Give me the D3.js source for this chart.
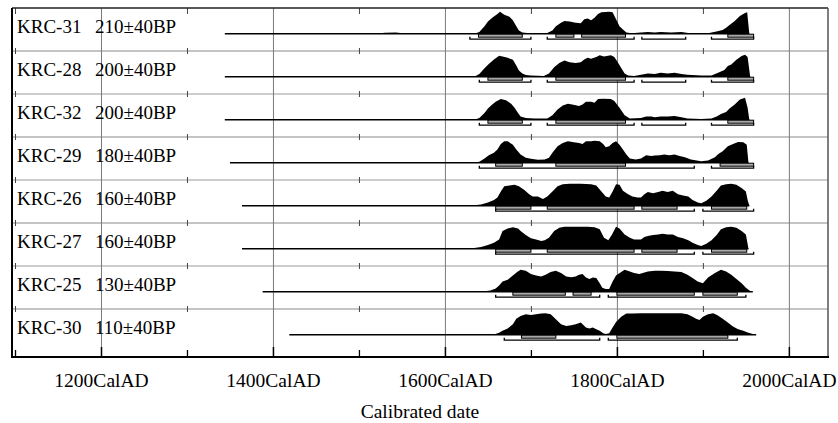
<!DOCTYPE html>
<html>
<head>
<meta charset="utf-8">
<script src="https://cdn.jsdelivr.net/npm/d3@7"></script>
<style>
  body { margin: 0; background: #fff; }
</style>
</head>
<body>
<div id="chart"></div>
<script>
// sample names and conventional ages, top row first
var samples = ['KRC-31', 'KRC-28', 'KRC-32', 'KRC-29', 'KRC-26', 'KRC-27', 'KRC-25', 'KRC-30'];
var ages = ['210±40BP', '200±40BP', '200±40BP', '180±40BP', '160±40BP', '160±40BP', '130±40BP', '110±40BP'];

var majorTicks = [1200, 1400, 1600, 1800, 2000];
var minorTicks = [1100, 1300, 1500, 1700, 1900];

// probability curves: [calendar year, relative probability]
var dens31 = [[1344,0],[1520,0],[1530,.04],[1543,.05],[1556,0],[1634,0],[1640,.08],[1646,.34],[1650,.55],[1655,.73],[1661,.89],[1664,1],[1669,.86],[1675,.77],[1679,.61],[1683,.34],[1686,.14],[1690,.06],[1696,.03],[1704,.02],[1719,.03],[1725,.14],[1729,.34],[1735,.5],[1739,.58],[1745,.55],[1752,.5],[1758,.48],[1762,.66],[1766,.69],[1770,.61],[1774,.73],[1778,.89],[1782,.98],[1791,1],[1795,.97],[1799,.66],[1803,.34],[1807,.19],[1811,.06],[1817,.02],[1828,.05],[1836,.08],[1844,.06],[1851,.08],[1863,.06],[1875,.08],[1883,.03],[1906,.02],[1917,.11],[1923,.17],[1927,.27],[1931,.39],[1937,.58],[1943,.81],[1949,.94],[1951.5,.97],[1954,0]];
var dens28 = [[1344,0],[1525,0],[1535,.03],[1550,.03],[1560,0],[1634,0],[1640,.12],[1646,.38],[1651,.58],[1657,.78],[1663,.95],[1667,.92],[1673,.86],[1679,.77],[1683,.51],[1686,.28],[1690,.15],[1694,.08],[1700,.05],[1715,.03],[1721,.15],[1727,.43],[1733,.62],[1739,.74],[1745,.66],[1752,.62],[1758,.66],[1762,.78],[1766,.86],[1770,.82],[1776,.89],[1780,.97],[1785,.92],[1793,.97],[1797,.89],[1801,.66],[1805,.4],[1809,.15],[1813,.05],[1820,.03],[1828,.09],[1836,.15],[1844,.12],[1851,.18],[1859,.15],[1867,.18],[1875,.12],[1882,.09],[1898,.05],[1910,.05],[1917,.17],[1925,.31],[1929,.49],[1933,.55],[1939,.77],[1945,.94],[1949,1],[1952,.89],[1955,0]];
var dens32 = [[1344,0],[1515,0],[1530,.02],[1560,.02],[1580,0],[1634,0],[1640,.08],[1646,.31],[1650,.51],[1655,.69],[1659,.82],[1665,.94],[1671,.88],[1677,.72],[1681,.54],[1685,.31],[1688,.15],[1694,.08],[1704,.05],[1719,.05],[1725,.2],[1731,.46],[1737,.65],[1743,.72],[1748,.69],[1756,.62],[1760,.69],[1764,.82],[1770,.82],[1774,.77],[1778,.94],[1784,.95],[1793,.94],[1797,.85],[1803,.54],[1809,.2],[1815,.06],[1828,.08],[1834,.14],[1840,.14],[1844,.11],[1851,.15],[1859,.14],[1867,.17],[1875,.11],[1882,.05],[1898,.03],[1910,.05],[1916,.14],[1921,.26],[1927,.35],[1931,.51],[1937,.69],[1943,.92],[1949,1],[1952,.54],[1954,0]];
var dens29 = [[1350,0],[1630,0],[1640,.04],[1646,.19],[1651,.34],[1657,.45],[1661,.6],[1665,.85],[1669,.97],[1673,.97],[1679,.82],[1683,.6],[1688,.37],[1694,.22],[1700,.18],[1708,.13],[1716,.15],[1721,.22],[1725,.45],[1731,.75],[1737,.9],[1743,.97],[1750,.93],[1756,.9],[1760,.85],[1764,.97],[1770,.97],[1774,1],[1780,.97],[1784,.85],[1787,.7],[1791,.75],[1795,.9],[1799,.97],[1803,.82],[1807,.6],[1811,.37],[1815,.19],[1822,.15],[1828,.19],[1834,.34],[1840,.3],[1844,.33],[1850,.34],[1855,.37],[1861,.34],[1867,.37],[1873,.3],[1879,.25],[1886,.15],[1898,.07],[1906,.1],[1914,.25],[1918,.4],[1923,.52],[1929,.75],[1935,.85],[1941,.94],[1947,.93],[1951,.82],[1953,0]];
var dens26 = [[1364,0],[1600,0],[1634,.02],[1642,.06],[1650,.15],[1657,.26],[1661,.37],[1665,.65],[1669,.88],[1675,.92],[1681,.95],[1686,.88],[1692,.72],[1698,.52],[1702,.42],[1708,.42],[1714,.31],[1719,.42],[1725,.65],[1731,.88],[1737,.98],[1745,1],[1758,1],[1770,.98],[1776,.92],[1782,.65],[1787,.42],[1791,.37],[1795,.65],[1799,.98],[1803,.95],[1807,.68],[1813,.52],[1818,.42],[1824,.37],[1828,.37],[1832,.52],[1836,.62],[1842,.57],[1848,.62],[1853,.68],[1859,.62],[1865,.68],[1871,.52],[1877,.46],[1883,.42],[1888,.26],[1894,.15],[1898,.11],[1904,.22],[1910,.42],[1916,.68],[1921,.92],[1927,.98],[1933,1],[1939,.95],[1945,.8],[1950,.65],[1952,.26],[1954,0]];
var dens27 = [[1364,0],[1600,0],[1634,.03],[1642,.08],[1650,.17],[1657,.27],[1663,.42],[1667,.8],[1673,.92],[1679,.98],[1685,.92],[1688,.8],[1694,.62],[1700,.47],[1706,.42],[1712,.35],[1716,.38],[1721,.5],[1727,.8],[1733,.95],[1739,1],[1750,1],[1766,1],[1774,.98],[1780,.88],[1785,.5],[1790,.38],[1794,.62],[1799,1],[1803,.92],[1809,.65],[1815,.5],[1820,.42],[1828,.42],[1832,.53],[1836,.58],[1842,.62],[1848,.65],[1853,.68],[1859,.65],[1865,.65],[1871,.53],[1877,.47],[1883,.38],[1888,.27],[1894,.17],[1898,.12],[1904,.23],[1910,.38],[1916,.62],[1921,.88],[1927,.98],[1933,1],[1939,.95],[1945,.8],[1950,.65],[1953,0]];
var dens25 = [[1388,0],[1600,0],[1646,.02],[1653,.06],[1659,.15],[1663,.28],[1667,.46],[1673,.54],[1679,.74],[1684,.89],[1688,1],[1694,.95],[1700,.8],[1706,.74],[1712,.69],[1717,.77],[1723,.89],[1729,.95],[1735,.85],[1741,.69],[1747,.66],[1752,.69],[1756,.77],[1760,.8],[1764,.65],[1768,.58],[1772,.65],[1776,.62],[1780,.38],[1783,.18],[1787,.12],[1791,.12],[1795,.46],[1799,.74],[1805,.89],[1809,1],[1815,.92],[1820,.85],[1826,.8],[1830,.85],[1836,.92],[1844,.95],[1851,.95],[1859,.94],[1867,.92],[1875,.89],[1882,.77],[1888,.62],[1894,.46],[1900,.38],[1906,.65],[1914,.85],[1921,1],[1927,.92],[1933,.77],[1939,.58],[1945,.38],[1950,.18],[1955,.03],[1958,0]];
var dens30 = [[1419,0],[1600,0],[1657,.01],[1663,.09],[1667,.18],[1673,.28],[1679,.48],[1683,.73],[1688,.85],[1694,.93],[1700,.9],[1706,.93],[1712,.96],[1717,.97],[1723,.93],[1729,.7],[1735,.48],[1741,.4],[1747,.43],[1752,.48],[1758,.55],[1764,.33],[1768,.28],[1772,.33],[1776,.25],[1780,.18],[1784,.07],[1787,.03],[1791,.07],[1795,.33],[1799,.58],[1805,.82],[1811,.96],[1818,.96],[1828,.97],[1844,.97],[1859,.97],[1875,.97],[1882,.93],[1888,.82],[1892,.73],[1896,.67],[1900,.82],[1906,.93],[1912,.97],[1917,.88],[1923,.73],[1929,.55],[1935,.37],[1941,.25],[1947,.18],[1952,.1],[1958,.03],[1962,0]];
var densities = [dens31, dens28, dens32, dens29, dens26, dens27, dens25, dens30];

// 68.2% (boxes) and 95.4% (brackets) ranges
var range68 = [
  [[1639,1690],[1729,1750],[1759,1810],[1929,1959]],
  [[1650,1690],[1729,1810],[1929,1959]],
  [[1650,1690],[1729,1810],[1929,1959]],
  [[1659,1690],[1729,1810],[1920,1959]],
  [[1659,1700],[1719,1820],[1829,1870],[1910,1951]],
  [[1659,1700],[1719,1820],[1829,1870],[1910,1951]],
  [[1679,1740],[1749,1770],[1800,1890],[1900,1940]],
  [[1689,1729],[1800,1929]]
];
var range95 = [
  [[1629,1700],[1719,1820],[1829,1880],[1910,1959]],
  [[1640,1700],[1719,1820],[1829,1880],[1910,1959]],
  [[1640,1700],[1719,1820],[1829,1880],[1910,1959]],
  [[1640,1890],[1910,1959]],
  [[1659,1890],[1900,1959]],
  [[1659,1890],[1900,1959]],
  [[1659,1780],[1790,1950]],
  [[1669,1780],[1790,1940]]
];

var serif = "'Liberation Serif', serif";
var svgWidth = 838, svgHeight = 423;
var plot = { left: 12, right: 828, top: 8, bottom: 357 };
var rowH = 43;

var svg = d3.select('#chart')
  .append('svg')
  .attr('width', svgWidth)
  .attr('height', svgHeight)
  .attr('font-family', serif);

var x = d3.scaleLinear().domain([1096.5, 2045.5]).range([plot.left, plot.right]);
var h = d3.scaleLinear().domain([0, 1]).range([0, 22]);

drawGrid(svg);
samples.forEach(function (name, i) {
  drawRow(svg, i);
});
drawAxis(svg);

function drawGrid(svg) {
  // row separators
  d3.range(1, samples.length).forEach(function (i) {
    var y = plot.top + i * rowH;
    svg.append('line')
      .attr('x1', plot.left).attr('x2', plot.right)
      .attr('y1', y).attr('y2', y)
      .attr('stroke', i % 2 ? '#c4c4c4' : '#9a9a9a')
      .attr('stroke-width', i % 2 ? 2 : 1);
    svg.selectAll(null)
      .data(minorTicks)
      .enter()
      .append('line')
      .attr('x1', function (d) { return x(d) + 0.5; })
      .attr('x2', function (d) { return x(d) + 0.5; })
      .attr('y1', y - 3).attr('y2', y + 3)
      .attr('stroke', '#444')
      .attr('stroke-width', 1);
  });

  // vertical grid lines
  svg.selectAll('.grid')
    .data(majorTicks)
    .enter()
    .append('line')
    .attr('class', 'grid')
    .attr('x1', function (d) { return x(d) + 0.5; })
    .attr('x2', function (d) { return x(d) + 0.5; })
    .attr('y1', plot.top).attr('y2', plot.bottom)
    .attr('stroke', '#7a7a7a')
    .attr('stroke-width', 1);

  // ticks under the top frame
  svg.selectAll('.topTick')
    .data(minorTicks)
    .enter()
    .append('line')
    .attr('x1', function (d) { return x(d) + 0.5; })
    .attr('x2', function (d) { return x(d) + 0.5; })
    .attr('y1', plot.top).attr('y2', plot.top + 6)
    .attr('stroke', '#444');
}

function drawRow(svg, i) {
  var rowTop = plot.top + i * rowH;
  var base = rowTop + 25.7;
  var data = densities[i];

  svg.append('text')
    .attr('x', 17)
    .attr('y', rowTop + 24.5)
    .attr('font-family', serif)
    .attr('font-size', 19)
    .text(samples[i]);
  svg.append('text')
    .attr('x', 95)
    .attr('y', rowTop + 24.5)
    .attr('font-family', serif)
    .attr('font-size', 19)
    .text(ages[i]);

  var area = d3.area()
    .x(function (d) { return x(d[0]); })
    .y0(base)
    .y1(function (d) { return base - h(d[1]); });

  svg.append('path')
    .datum(data)
    .attr('d', area)
    .attr('fill', '#000');

  svg.append('line')
    .attr('x1', x(data[0][0])).attr('x2', x(data[data.length - 1][0]))
    .attr('y1', base).attr('y2', base)
    .attr('stroke', '#000')
    .attr('stroke-width', 1.6);

  // 68.2% boxes
  svg.selectAll(null)
    .data(range68[i])
    .enter()
    .append('rect')
    .attr('x', function (d) { return x(d[0]); })
    .attr('y', base + 0.5)
    .attr('width', function (d) { return x(d[1]) - x(d[0]); })
    .attr('height', 3)
    .attr('fill', '#a9a9a9')
    .attr('stroke', '#000')
    .attr('stroke-width', 1);

  // 95.4% brackets
  svg.selectAll(null)
    .data(range95[i])
    .enter()
    .append('path')
    .attr('d', function (d) {
      var y = base + 5.5;
      return 'M' + x(d[0]) + ',' + (y - 2.5) + 'V' + y + 'H' + x(d[1]) + 'V' + (y - 2.5);
    })
    .attr('fill', 'none')
    .attr('stroke', '#000')
    .attr('stroke-width', 1.3);
}

function drawAxis(svg) {
  var axis = svg.append('g')
    .attr('transform', 'translate(0,' + plot.bottom + ')')
    .call(d3.axisBottom(x)
      .tickValues(majorTicks)
      .tickSizeInner(-10)
      .tickSizeOuter(0)
      .tickFormat(function (d) { return d + 'CalAD'; }))
    .attr('font-family', serif)
    .attr('font-size', 19.5);
  axis.select('.domain').remove();
  axis.selectAll('.tick line').attr('stroke', '#000').attr('stroke-width', 1.5);
  axis.selectAll('.tick text')
    .attr('y', 30)
    .attr('dy', 0)
    .attr('fill', '#000');

  svg.selectAll('.minorTick')
    .data(minorTicks)
    .enter()
    .append('line')
    .attr('x1', function (d) { return x(d) + 0.5; })
    .attr('x2', function (d) { return x(d) + 0.5; })
    .attr('y1', plot.bottom - 7).attr('y2', plot.bottom)
    .attr('stroke', '#000')
    .attr('stroke-width', 1.3);

  // frame
  svg.append('line').attr('x1', plot.left).attr('x2', plot.right)
    .attr('y1', plot.top).attr('y2', plot.top)
    .attr('stroke', '#222').attr('stroke-width', 1.5);
  svg.append('line').attr('x1', plot.right).attr('x2', plot.right)
    .attr('y1', plot.top).attr('y2', plot.bottom)
    .attr('stroke', '#555').attr('stroke-width', 1.5);
  svg.append('line').attr('x1', plot.left).attr('x2', plot.left)
    .attr('y1', plot.top).attr('y2', plot.bottom + 1)
    .attr('stroke', '#000').attr('stroke-width', 2);
  svg.append('line').attr('x1', plot.left - 1).attr('x2', plot.right + 1)
    .attr('y1', plot.bottom).attr('y2', plot.bottom)
    .attr('stroke', '#000').attr('stroke-width', 2);

  svg.append('text')
    .attr('x', (plot.left + plot.right) / 2)
    .attr('y', 418)
    .attr('text-anchor', 'middle')
    .attr('font-family', serif)
    .attr('font-size', 19.5)
    .text('Calibrated date');
}
</script>
</body>
</html>
